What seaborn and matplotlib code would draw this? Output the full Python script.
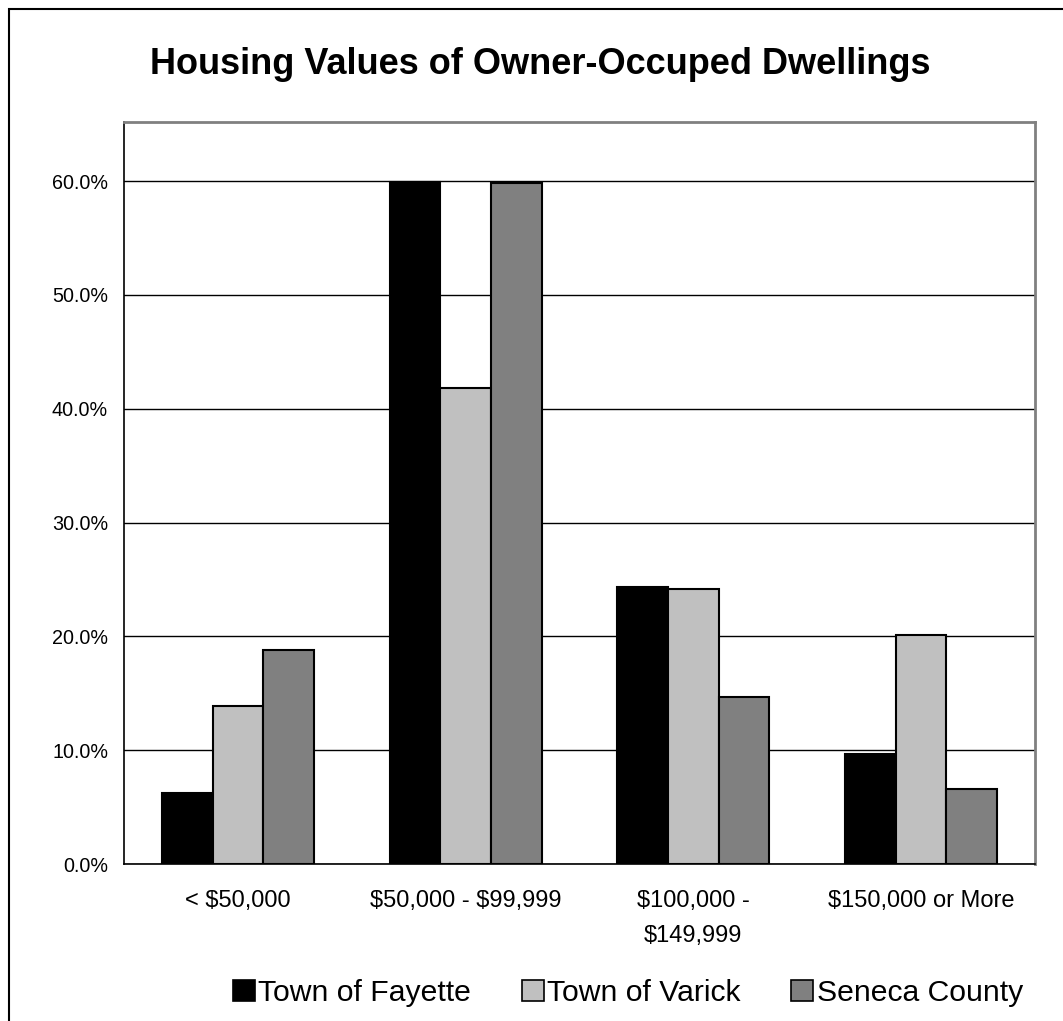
import pandas as pd
import seaborn as sns
import matplotlib.pyplot as plt
from matplotlib.patches import Patch, Rectangle
from matplotlib.ticker import PercentFormatter

categories = ['< $50,000', '$50,000 - $99,999', '$100,000 -\n$149,999', '$150,000 or More']
series = ['Town of Fayette', 'Town of Varick', 'Seneca County']
fayette = [6.2, 59.9, 24.3, 9.7]
varick = [13.9, 41.8, 24.2, 20.1]
seneca = [18.8, 59.8, 14.7, 6.6]
colors = ['#000000', '#C0C0C0', '#808080']

df = pd.DataFrame({
    'category': categories * 3,
    'area': [s for s in series for _ in categories],
    'value': fayette + varick + seneca,
})

sns.set_style('white')
plt.rcParams['font.family'] = ['Liberation Sans', 'DejaVu Sans']
plt.rcParams['text.parse_math'] = False
plt.rcParams['text.color'] = 'black'
plt.rcParams['xtick.color'] = 'black'
plt.rcParams['ytick.color'] = 'black'

fig = plt.figure(figsize=(10.63, 10.21), dpi=100)
ax = fig.add_axes([124 / 1063, 1 - 864 / 1021, (1035 - 124) / 1063, (864 - 122) / 1021])

sns.barplot(data=df, x='category', y='value', hue='area', hue_order=series,
            palette=colors, width=0.667, edgecolor='black', linewidth=1.5,
            legend=False, ax=ax)

ax.set_ylim(0, 65.2)
ax.set_xlim(-0.5, 3.5)
ax.set_yticks([0, 10, 20, 30, 40, 50, 60])
ax.yaxis.set_major_formatter(PercentFormatter(decimals=1))
ax.grid(axis='y', color='black', linewidth=1)
ax.set_axisbelow(True)
ax.set_xlabel('')
ax.set_ylabel('')

for side in ['left', 'bottom']:
    ax.spines[side].set_color('black')
    ax.spines[side].set_linewidth(1.2)
for side in ['top', 'right']:
    ax.spines[side].set_color('#808080')
    ax.spines[side].set_linewidth(2)

ax.tick_params(axis='y', direction='inout', length=9, width=1, labelsize=14.2, pad=7)
ax.tick_params(axis='x', which='major', length=0, labelsize=17, pad=19)
for lbl in ax.get_xticklabels():
    lbl.set_linespacing(1.75)
ax.set_xticks([-0.5, 0.5, 1.5, 2.5, 3.5], minor=True)
ax.tick_params(axis='x', which='minor', direction='out', length=8, width=1)

fig.text(540 / 1063, 1 - 65 / 1021, 'Housing Values of Owner-Occuped Dwellings',
         ha='center', va='center', fontsize=26, fontweight='bold')

handles = [Patch(facecolor=c, edgecolor='black', linewidth=1.2) for c in colors]
fig.legend(handles, series, loc='center', bbox_to_anchor=(628 / 1063, 1 - 993 / 1021),
           ncol=3, frameon=False, fontsize=21.7, handlelength=0.72, handleheight=0.72,
           handletextpad=0.12, columnspacing=1.68)

fig.patches.append(Rectangle((9 / 1063, -0.05), 1.1, 1 - 9 / 1021 + 0.05,
                             transform=fig.transFigure, fill=False,
                             edgecolor='black', linewidth=1.5))

fig.savefig('out.png', dpi=100)
